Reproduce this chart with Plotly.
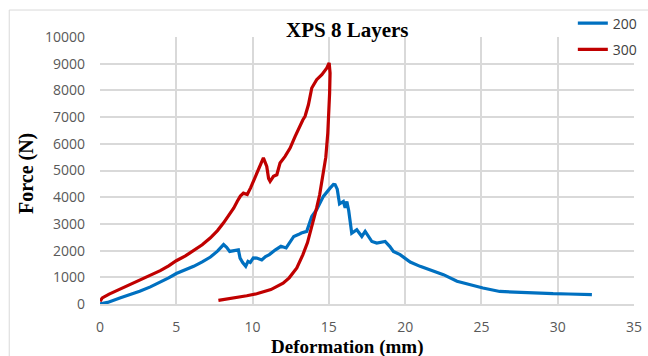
import plotly.graph_objects as go

# Series "200"
blue_x = [0, 0.5, 1.3, 2.0, 2.6, 3.3, 3.95, 4.5, 5.0, 5.6, 6.14, 6.7, 7.24, 7.7, 8.1,
          8.3, 8.5, 8.8, 9.07, 9.18, 9.35, 9.55, 9.7, 9.85, 10.05, 10.27, 10.6, 10.85,
          11.1, 11.5, 11.86, 12.2, 12.5, 12.7, 13.0, 13.2, 13.55, 13.88, 14.2, 14.64,
          15.08, 15.3, 15.41, 15.55, 15.7, 15.95, 16.07, 16.18, 16.3, 16.5, 16.83,
          17.16, 17.38, 17.6, 17.82, 18.14, 18.69, 19.0, 19.23, 19.67, 20.33, 20.98,
          21.86, 22.51, 23.4, 24.26, 25.1, 26.2, 27.3, 28.4, 29.7, 30.7, 31.5, 32.24]
blue_y = [0, 60, 225, 350, 475, 640, 810, 980, 1140, 1280, 1410, 1580, 1760, 1980, 2225,
          2120, 1970, 2000, 2030, 1720, 1550, 1410, 1600, 1560, 1730, 1720, 1650, 1780,
          1850, 2030, 2160, 2100, 2350, 2530, 2600, 2660, 2720, 3280, 3530, 4030,
          4340, 4480, 4470, 4300, 3750, 3840, 3600, 3840, 3500, 2650, 2780,
          2530, 2720, 2500, 2340, 2280, 2340, 2150, 1970, 1850, 1570, 1410,
          1220, 1100, 850, 720, 600, 470, 435, 410, 385, 375, 360, 350]

# Series "300"
red_x = [0, 0.15, 0.6, 1.3, 2.0, 2.6, 3.3, 3.95, 4.5, 5.0, 5.6, 6.14, 6.7, 7.24, 7.7,
         8.1, 8.45, 8.77, 9.0, 9.2, 9.4, 9.65, 9.87, 10.2, 10.27, 10.5, 10.71, 10.93,
         11.05, 11.15, 11.37, 11.59, 11.8, 12.13, 12.46, 12.79, 13.11, 13.3, 13.44,
         13.66, 13.88, 14.2, 14.54, 14.87, 15.02, 15.08, 15.05, 14.93, 14.8, 14.6,
         14.4, 14.2, 13.9, 13.6, 13.3, 12.9, 12.4, 12.0, 11.2, 10.27, 9.62, 8.74, 7.76]
red_y = [100, 230, 370, 560, 730, 900, 1070, 1250, 1430, 1620, 1800, 2000, 2220, 2480,
         2750, 3040, 3330, 3600, 3850, 4040, 4150, 4100, 4350, 4790, 4900, 5150, 5470,
         5150, 4700, 4590, 4780, 4840, 5280, 5530, 5840, 6280, 6710, 6900, 7030,
         7460, 8090, 8400, 8590, 8840, 9030, 8650, 7900, 6400, 5500, 4700,
         4100, 3600, 2950, 2300, 1850, 1350, 980, 780, 540, 385, 310, 225, 135]

x_ticks = [0, 5, 10, 15, 20, 25, 30, 35]
y_ticks = [0, 1000, 2000, 3000, 4000, 5000, 6000, 7000, 8000, 9000, 10000]

tick_font = dict(family="Open Sans", size=14, color="#595959")
serif_bold = dict(family="Liberation Serif", size=20, color="#000000")

fig = go.Figure()
fig.add_trace(go.Scatter(x=blue_x, y=blue_y, mode="lines", name="200",
                         legendgroup="a",
                         line=dict(color="#0070C0", width=3.2)))
fig.add_trace(go.Scatter(x=red_x, y=red_y, mode="lines", name="300",
                         legendgroup="b",
                         line=dict(color="#C00000", width=3.2)))

fig.update_layout(
    width=648, height=356,
    margin=dict(l=100, r=14, t=37, b=52, autoexpand=False),
    paper_bgcolor="white", plot_bgcolor="white",
    showlegend=True,
    legend=dict(xref="container", yref="container",
                x=0.884, y=0.979, xanchor="left", yanchor="top",
                font=dict(family="Open Sans", size=14, color="#404040"),
                tracegroupgap=5, bgcolor="rgba(0,0,0,0)"),
    xaxis=dict(range=[0, 35], tickvals=x_ticks, showgrid=True, automargin=False,
               gridcolor="#d9d9d9", gridwidth=1.5, zeroline=False,
               showline=True, linecolor="#d9d9d9", linewidth=1.5, mirror=False,
               tickfont=tick_font, ticks="", ticklabelstandoff=9, fixedrange=True),
    yaxis=dict(range=[0, 10000], tickvals=y_ticks, tickformat="d", showgrid=True,
               automargin=False,
               gridcolor="#d9d9d9", gridwidth=1.5, zeroline=False,
               showline=False, tickfont=tick_font, ticks="",
               ticklabelstandoff=14, fixedrange=True),
    annotations=[
        dict(text="<b>XPS 8 Layers</b>", xref="paper", yref="paper",
             x=0.464, y=1.026, xanchor="center", yanchor="middle",
             showarrow=False, font=dict(family="Liberation Serif", size=21, color="#000000")),
        dict(text="<b>Deformation (mm)</b>", xref="paper", yref="paper",
             x=0.4625, y=-0.162, xanchor="center", yanchor="middle",
             showarrow=False, font=dict(family="Liberation Serif", size=19, color="#000000")),
        dict(text="<b>Force (N)</b>", xref="paper", yref="paper",
             x=-0.1367, y=0.487, xanchor="center", yanchor="middle",
             textangle=-90, showarrow=False, font=serif_bold),
    ],
    shapes=[dict(type="rect", xref="paper", yref="paper",
                 x0=-0.170, y0=-0.4, x1=1.2, y1=1.101,
                 line=dict(color="#d9d9d9", width=1), layer="below")],
)

fig.write_html("out.html", config={"displayModeBar": False},
               post_script="document.body.style.margin='0';document.body.style.padding='0';")
